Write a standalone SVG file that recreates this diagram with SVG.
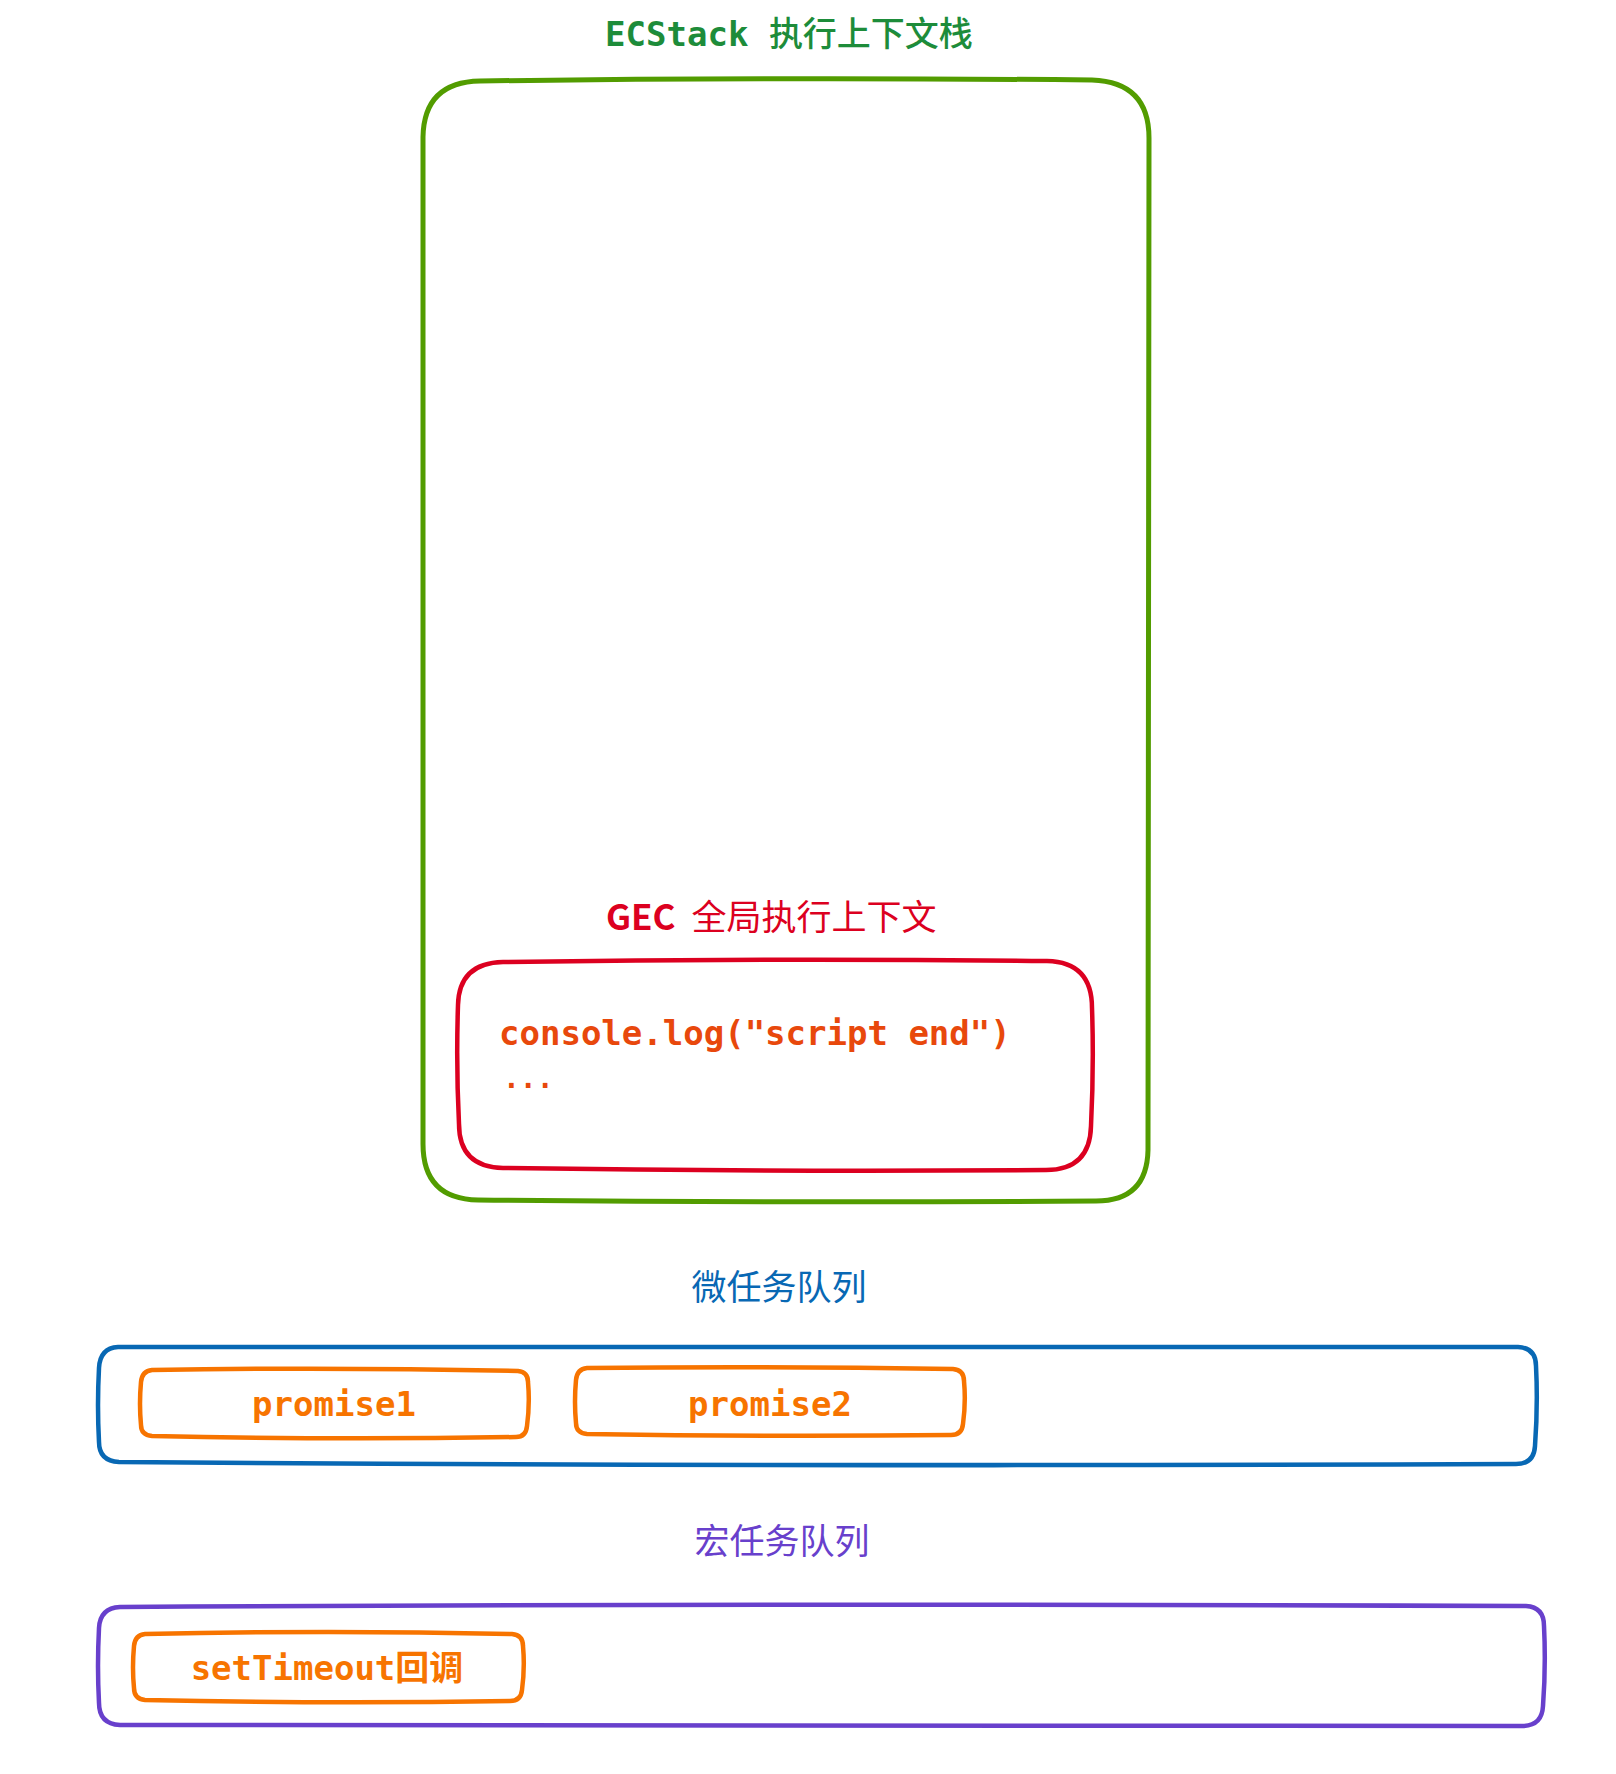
<svg xmlns="http://www.w3.org/2000/svg" width="1616" height="1774" viewBox="0 0 1616 1774">
  <style>
    .box { fill: none; stroke-linecap: round; stroke-linejoin: round; }
    .mono { font-family: "DejaVu Sans Mono", "Liberation Mono", "Noto Sans CJK SC", monospace; font-weight: bold; font-size: 34px; }
    .cjk { font-family: "Noto Sans CJK SC", "Noto Sans", sans-serif; font-size: 35px; }
    .green { stroke: #529c00; stroke-width: 5; }
    .red { stroke: #dc0020; stroke-width: 4.5; }
    .blue { stroke: #0868b4; stroke-width: 4.5; }
    .purple { stroke: #6840cc; stroke-width: 4.5; }
    .orange { stroke: #f77400; stroke-width: 4.5; }
    .dots { font-weight: bold; font-size: 28px; }
  </style>
  <rect width="1616" height="1774" fill="#ffffff"/>

  <!-- execution context stack -->
  <g id="ecstack">
    <text class="mono" x="789" y="46" text-anchor="middle" fill="#1d8c3a" style="font-weight:600">ECStack <tspan class="cjk" style="font-weight:500;font-size:34px">执行上下文栈</tspan></text>
    <path class="box green" d="M 480 81 Q 786 77 1092 80 Q 1149 82 1149 138 Q 1150 670 1148 1150 Q 1147 1201 1096 1201 Q 786 1203 478 1200 Q 423 1199 423 1144 Q 421 640 423 137 Q 424 82 480 81 Z"/>
  </g>

  <!-- global execution context -->
  <g id="gec">
    <text class="cjk" x="606" y="930" fill="#dc0020"><tspan font-weight="600">GEC</tspan><tspan dx="16">全局执行上下文</tspan></text>
    <path class="box red" d="M 503 962 Q 775 958 1047 961 Q 1092 962 1092 1008 Q 1094 1065 1091 1126 Q 1090 1170 1046 1170 Q 775 1172 503 1168 Q 459 1167 459 1124 Q 456 1065 458 1005 Q 459 963 503 962 Z"/>
    <text class="mono" x="499" y="1045" fill="#e8480c">console.log("script end")</text>
    <text class="mono dots" x="503" y="1088" fill="#e8480c">...</text>
  </g>

  <!-- microtask queue -->
  <g id="microtask-queue">
    <text class="cjk" x="779" y="1300" text-anchor="middle" fill="#0868b4">微任务队列</text>
    <path class="box blue" d="M 118 1347 Q 820 1345 1518 1347 Q 1536 1348 1536 1366 Q 1538 1405 1535 1446 Q 1534 1464 1516 1464 Q 820 1467 119 1462 Q 99 1461 99 1442 Q 97 1405 99 1368 Q 100 1348 118 1347 Z"/>
  </g>

  <g id="promise1">
    <path class="box orange" d="M 152 1370 Q 335 1367 518 1371 Q 528 1372 528 1382 Q 530 1404 527 1426 Q 526 1437 516 1437 Q 335 1440 152 1436 Q 141 1435 141 1425 Q 139 1404 141 1382 Q 142 1371 152 1370 Z"/>
    <text class="mono" x="334" y="1416" text-anchor="middle" fill="#f77400">promise1</text>
  </g>

  <g id="promise2">
    <path class="box orange" d="M 587 1368 Q 770 1366 953 1369 Q 964 1370 964 1381 Q 966 1402 963 1424 Q 962 1435 951 1435 Q 770 1437 587 1434 Q 576 1433 576 1423 Q 574 1402 576 1380 Q 577 1369 587 1368 Z"/>
    <text class="mono" x="770" y="1416" text-anchor="middle" fill="#f77400">promise2</text>
  </g>

  <!-- macrotask queue -->
  <g id="macrotask-queue">
    <text class="cjk" x="782" y="1554" text-anchor="middle" fill="#6840cc">宏任务队列</text>
    <path class="box purple" d="M 120 1607 Q 830 1603 1526 1606 Q 1544 1607 1544 1626 Q 1546 1666 1543 1706 Q 1542 1726 1522 1726 Q 830 1728 120 1725 Q 99 1724 99 1703 Q 97 1666 99 1628 Q 100 1608 120 1607 Z"/>
  </g>

  <g id="settimeout-callback">
    <path class="box orange" d="M 145 1634 Q 328 1630 512 1634 Q 523 1635 523 1646 Q 525 1668 522 1690 Q 521 1701 510 1701 Q 328 1704 145 1700 Q 134 1699 134 1688 Q 132 1668 134 1646 Q 135 1635 145 1634 Z"/>
    <text class="mono" x="327" y="1680" text-anchor="middle" fill="#f77400">setTimeout回调</text>
  </g>

  <g id="connectors"></g>
</svg>
